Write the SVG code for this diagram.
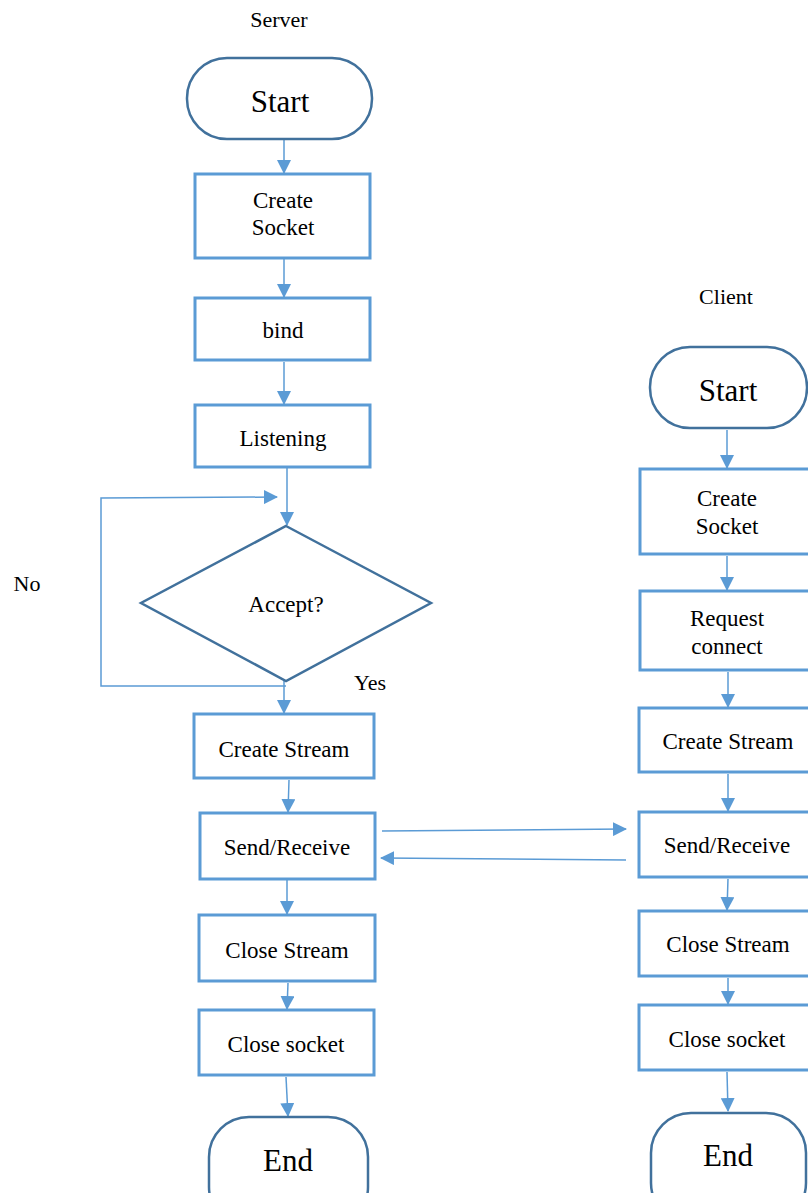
<svg xmlns="http://www.w3.org/2000/svg" width="808" height="1193" viewBox="0 0 808 1193">
  <style>
    .term { fill: #ffffff; stroke: #41719C; stroke-width: 2.5; }
    .box { fill: #ffffff; stroke: #5B9BD5; stroke-width: 3; }
    .dec { fill: #ffffff; stroke: #41719C; stroke-width: 2.5; }
    .t { font-family: "Liberation Serif", "DejaVu Serif", "Times New Roman", serif; fill: #000000; text-anchor: middle; }
    .big { font-size: 31px; }
    .mid { font-size: 23px; }
    .lbl { font-size: 22px; }
    .conn { fill: none; stroke: #5B9BD5; stroke-width: 1.5; }
  </style>
  <defs>
    <marker id="arrow" viewBox="0 0 14 14" refX="13" refY="7" markerWidth="14" markerHeight="14" markerUnits="userSpaceOnUse" orient="auto">
      <path d="M0,0 L14,7 L0,14 Z" fill="#5B9BD5"/>
    </marker>
  </defs>
  <rect width="808" height="1193" fill="#ffffff"/>

  <!-- column titles and branch labels -->
  <text class="t lbl" x="279" y="27">Server</text>
  <text class="t lbl" x="726" y="304">Client</text>
  <text class="t lbl" x="27" y="591">No</text>
  <text class="t lbl" x="370" y="690">Yes</text>

  <!-- connectors -->
  <g id="connectors">
    <line class="conn" x1="284" y1="139" x2="284" y2="173" marker-end="url(#arrow)"/>
    <line class="conn" x1="284" y1="259" x2="284" y2="297" marker-end="url(#arrow)"/>
    <line class="conn" x1="284" y1="362" x2="284" y2="404" marker-end="url(#arrow)"/>
    <line class="conn" x1="287" y1="468" x2="287" y2="525" marker-end="url(#arrow)"/>
    <polyline class="conn" points="286,686 101,686 101,498 277,497" marker-end="url(#arrow)"/>
    <line class="conn" x1="284" y1="681" x2="284" y2="713" marker-end="url(#arrow)"/>
    <line class="conn" x1="289" y1="780" x2="288" y2="812" marker-end="url(#arrow)"/>
    <line class="conn" x1="287" y1="880" x2="287" y2="914" marker-end="url(#arrow)"/>
    <line class="conn" x1="288" y1="983" x2="287" y2="1009" marker-end="url(#arrow)"/>
    <line class="conn" x1="286" y1="1077" x2="288" y2="1116" marker-end="url(#arrow)"/>

    <line class="conn" x1="382" y1="831" x2="626" y2="829" marker-end="url(#arrow)"/>
    <line class="conn" x1="626" y1="860" x2="381" y2="858" marker-end="url(#arrow)"/>

    <line class="conn" x1="727" y1="430" x2="727" y2="468" marker-end="url(#arrow)"/>
    <line class="conn" x1="727" y1="556" x2="727" y2="590" marker-end="url(#arrow)"/>
    <line class="conn" x1="728" y1="672" x2="728" y2="707" marker-end="url(#arrow)"/>
    <line class="conn" x1="728" y1="774" x2="728" y2="811" marker-end="url(#arrow)"/>
    <line class="conn" x1="728" y1="879" x2="727" y2="910" marker-end="url(#arrow)"/>
    <line class="conn" x1="728" y1="978" x2="728" y2="1004" marker-end="url(#arrow)"/>
    <line class="conn" x1="727" y1="1072" x2="728" y2="1111" marker-end="url(#arrow)"/>
  </g>

  <!-- server column -->
  <g id="s-start">
    <rect class="term" x="187" y="58" width="185" height="81" rx="40" ry="40"/>
    <text class="t big" x="280" y="112">Start</text>
  </g>
  <g id="s-create-socket">
    <rect class="box" x="195" y="174" width="175" height="84"/>
    <text class="t mid" x="283" y="208">Create</text>
    <text class="t mid" x="283" y="235">Socket</text>
  </g>
  <g id="s-bind">
    <rect class="box" x="195" y="298" width="175" height="62"/>
    <text class="t mid" x="283" y="338">bind</text>
  </g>
  <g id="s-listening">
    <rect class="box" x="195" y="405" width="175" height="62"/>
    <text class="t mid" x="283" y="446">Listening</text>
  </g>
  <g id="s-accept">
    <polygon class="dec" points="286,526 431,603 286,681 141,603"/>
    <text class="t mid" x="286" y="612">Accept?</text>
  </g>
  <g id="s-create-stream">
    <rect class="box" x="194" y="714" width="180" height="64"/>
    <text class="t mid" x="284" y="757">Create Stream</text>
  </g>
  <g id="s-send-receive">
    <rect class="box" x="200" y="813" width="175" height="66"/>
    <text class="t mid" x="287" y="855">Send/Receive</text>
  </g>
  <g id="s-close-stream">
    <rect class="box" x="199" y="915" width="176" height="66"/>
    <text class="t mid" x="287" y="958">Close Stream</text>
  </g>
  <g id="s-close-socket">
    <rect class="box" x="199" y="1010" width="175" height="65"/>
    <text class="t mid" x="286" y="1052">Close socket</text>
  </g>
  <g id="s-end">
    <rect class="term" x="209" y="1117" width="159" height="110" rx="40" ry="40"/>
    <text class="t big" x="288" y="1171">End</text>
  </g>

  <!-- client column -->
  <g id="c-start">
    <rect class="term" x="650" y="347" width="157" height="81" rx="40" ry="40"/>
    <text class="t big" x="728" y="401">Start</text>
  </g>
  <g id="c-create-socket">
    <rect class="box" x="640" y="469" width="180" height="85"/>
    <text class="t mid" x="727" y="506">Create</text>
    <text class="t mid" x="727" y="534">Socket</text>
  </g>
  <g id="c-request-connect">
    <rect class="box" x="640" y="591" width="180" height="79"/>
    <text class="t mid" x="727" y="626">Request</text>
    <text class="t mid" x="727" y="654">connect</text>
  </g>
  <g id="c-create-stream">
    <rect class="box" x="639" y="708" width="180" height="64"/>
    <text class="t mid" x="728" y="749">Create Stream</text>
  </g>
  <g id="c-send-receive">
    <rect class="box" x="639" y="812" width="180" height="65"/>
    <text class="t mid" x="727" y="853">Send/Receive</text>
  </g>
  <g id="c-close-stream">
    <rect class="box" x="639" y="911" width="180" height="65"/>
    <text class="t mid" x="728" y="952">Close Stream</text>
  </g>
  <g id="c-close-socket">
    <rect class="box" x="639" y="1005" width="180" height="65"/>
    <text class="t mid" x="727" y="1047">Close socket</text>
  </g>
  <g id="c-end">
    <rect class="term" x="651" y="1113" width="155" height="110" rx="40" ry="40"/>
    <text class="t big" x="728" y="1166">End</text>
  </g>
</svg>
